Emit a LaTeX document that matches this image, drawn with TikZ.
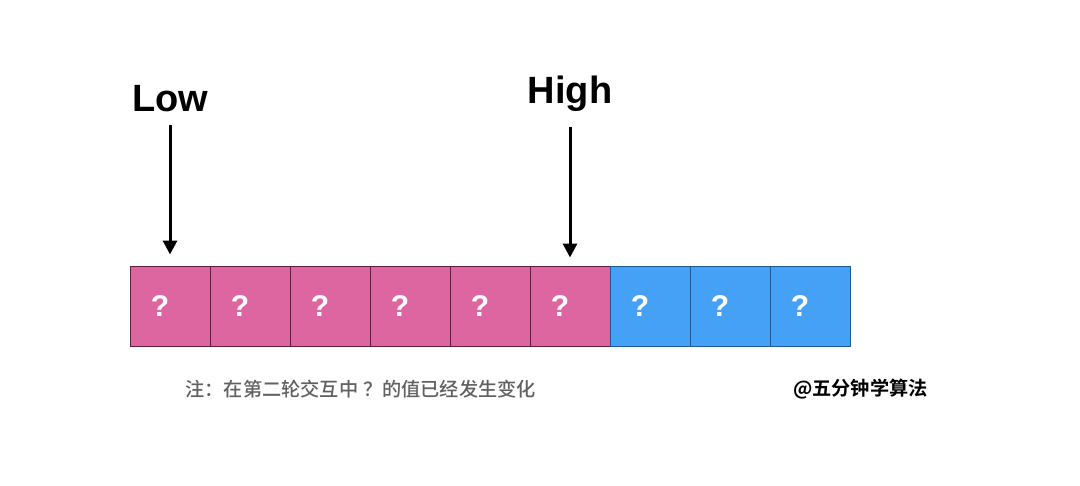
\documentclass[tikz,border=0pt]{standalone}
\usepackage{fontspec}
\setmainfont{Liberation Sans}
\newfontfamily\cjk{Noto Sans CJK SC Bold}
\newfontfamily\cjkmed{Noto Sans CJK SC Medium}
\usepackage{xcolor}
\usetikzlibrary{arrows.meta, positioning}
\definecolor{cellpink}{HTML}{DD66A1}
\definecolor{cellblue}{HTML}{44A1F6}
\definecolor{edgepink}{HTML}{5E1E3E}
\definecolor{edgeblue}{HTML}{1E5A96}
\tikzset{
  cell/.style={minimum size=40pt, inner sep=0pt, line width=0.5pt},
  mark text/.style={text=white, font=\fontsize{15}{15}\selectfont\bfseries},
  pointer/.style={font=\fontsize{19}{19}\selectfont\bfseries},
  ptrline/.style={->, line width=1.5pt, >={Triangle[length=7pt,width=7pt]}}
}

\begin{document}
\begin{tikzpicture}[x=0.5pt, y=-0.5pt]
  \useasboundingbox (0,0) rectangle (1080,486);
  \foreach \i in {1,...,6}
    \node[cell, draw=edgepink, fill=cellpink] (c\i) at (90+80*\i, 306) {};
  \foreach \i in {7,8,9}
    \node[cell, draw=edgeblue, fill=cellblue] (c\i) at (90+80*\i, 306) {};
  \foreach \i in {1,...,9}
    \node[mark text] (q\i) at ([xshift=-5pt]c\i.center) {?};
  \node[pointer] (low) at (170, 99) {Low};
  \node[pointer] (high) at (570, 94) {High};
  \draw[ptrline, shorten <=3pt, shorten >=5.5pt] (low.south) -- (c1.north);
  \draw[ptrline, shorten <=4pt, shorten >=4pt] (high.south) -- (c6.north);
  \node[font=\cjkmed\fontsize{9.6}{9.6}\selectfont, text=black!62, anchor=west, inner sep=0pt] (note) at (185, 389)
    {注：在第二轮交互中\hspace{2.5pt}？的值已经发生变化};
  \node[font=\cjk\fontsize{9.6}{9.6}\selectfont, anchor=east, inner sep=0pt] (sign) at (928, 389) {@五分钟学算法};
\end{tikzpicture}
\end{document}
